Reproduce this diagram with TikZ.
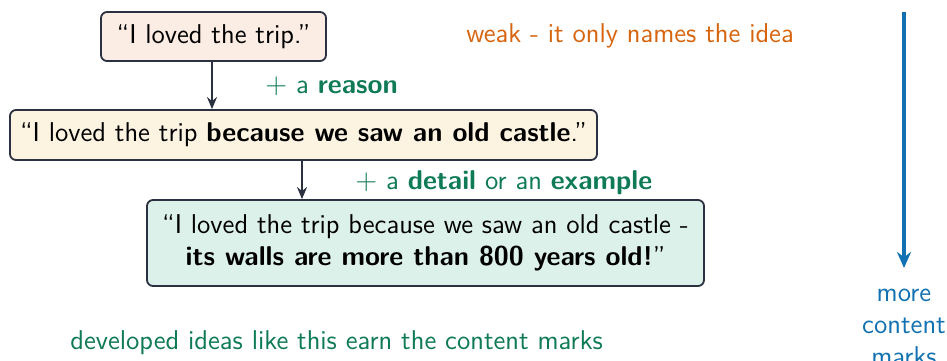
\documentclass[tikz,border=0pt]{standalone}
\usetikzlibrary{arrows.meta}
\definecolor{boxline}{HTML}{2B3140}
\definecolor{fillA}{HTML}{FBEDE3}
\definecolor{fillB}{HTML}{FCF3E1}
\definecolor{fillC}{HTML}{DDF1EB}
\definecolor{greenT}{HTML}{0F7A56}
\definecolor{orangeT}{HTML}{D7650F}
\definecolor{blueT}{HTML}{1271B0}
\begin{document}
\begin{tikzpicture}[x=0.5pt,y=-0.5pt,
  every node/.style={font=\fontsize{13.6}{16}\selectfont\sffamily},
  sbox/.style={draw=boxline, line width=0.9pt, rounded corners=3pt, inner sep=0pt, align=center},
  flow/.style={draw=boxline, line width=0.9pt, -{Stealth[length=6pt,width=5pt]}},
  note/.style={anchor=west, inner sep=0pt}]
\useasboundingbox (0,0) rectangle (947,360);
\node[sbox, fill=fillA, minimum width=112.5pt, minimum height=24.5pt] (b1) at (213.5,36.5) {``I loved the trip.''};
\node[sbox, fill=fillB, minimum width=293.5pt, minimum height=25pt] (b2) at (303.5,135) {``I loved the trip \textbf{because we saw an old castle}.''};
\node[sbox, fill=fillC, minimum width=278.5pt, minimum height=43pt] (b3) at (425.5,243) {``I loved the trip because we saw an old castle -\\\textbf{its walls are more than 800 years old!}''};
\coordinate (a1s) at (212,61);
\coordinate (a2s) at (302,160);
\draw[flow] (a1s) -- (a1s |- b2.north);
\draw[flow] (a2s) -- (a2s |- b3.north);
\node[note, text=greenT] (l1) at (265,86) {$+$ a \textbf{reason}};
\node[note, text=greenT] (l2) at (355,183) {$+$ a \textbf{detail} or an \textbf{example}};
\node[note, text=orangeT] (weak) at (466,36) {weak - it only names the idea};
\node[note, text=greenT] (dev) at (70,343) {developed ideas like this earn the content marks};
\coordinate (bt) at (904,12);
\coordinate (bb) at (904,268);
\draw[blueT, line width=1.6pt, -{Stealth[length=8pt,width=7pt]}] (bt) -- (bb);
\node[text=blueT, align=center, anchor=north, inner sep=0pt] (more) at (904,289) {more\\content\\marks};
\end{tikzpicture}
\end{document}
